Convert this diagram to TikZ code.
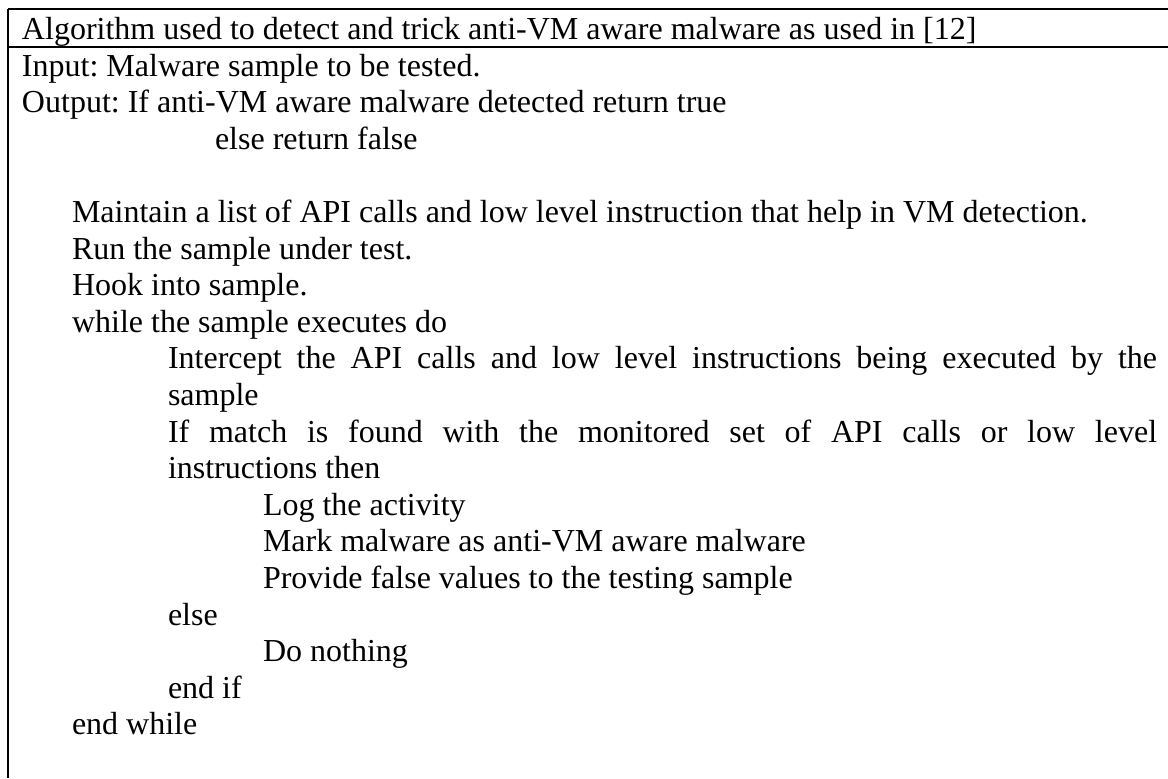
\documentclass[tikz,border=0pt]{standalone}
\usepackage{fontspec}
\setmainfont{Liberation Serif}
\frenchspacing
\begin{document}
\begin{tikzpicture}[x=0.375pt,y=-0.375pt,
  txt/.style={anchor=base west,inner sep=0pt,outer sep=0pt,font=\fontsize{12pt}{13.75pt}\selectfont\frenchspacing},
  rule/.style={line width=1.1pt,black}]
\useasboundingbox (0,0) rectangle (1168,778);
% frame
\coordinate (tl) at (8,9);
\coordinate (tr) at (1168,9);
\coordinate (sl) at (8,47);
\coordinate (sr) at (1168,47);
\coordinate (bl) at (8,778);
\draw[rule] (tl) -- (tr);
\draw[rule] (sl) -- (sr);
\draw[rule] (tl) -- (bl);
% header
\node[txt] (head) at (22,39) {Algorithm used to detect and trick anti-VM aware malware as used in [12]};
% body
\node[txt] (l1) at (22,76.0) {Input: Malware sample to be tested.};
\node[txt] (l2) at (22,112.6) {Output: If anti-VM aware malware detected return true};
\node[txt] (l3) at (215,149.2) {else return false};
\node[txt] (l5) at (72,222.4) {Maintain a list of API calls and low level instruction that help in VM detection.};
\node[txt] (l6) at (72,259.0) {Run the sample under test.};
\node[txt] (l7) at (72,295.6) {Hook into sample.};
\node[txt] (l8) at (72,332.2) {while the sample executes do};
\node[txt] (l9) at (168,368.8) {\makebox[370.9pt][s]{Intercept the API calls and low level instructions being executed by the}};
\node[txt] (l10) at (168,405.4) {sample};
\node[txt] (l11) at (168,442.0) {\makebox[370.9pt][s]{If match is found with the monitored set of API calls or low level}};
\node[txt] (l12) at (168,478.6) {instructions then};
\node[txt] (l13) at (263,515.2) {Log the activity};
\node[txt] (l14) at (263,551.8) {Mark malware as anti-VM aware malware};
\node[txt] (l15) at (263,588.4) {Provide false values to the testing sample};
\node[txt] (l16) at (168,625.0) {else};
\node[txt] (l17) at (263,661.6) {Do nothing};
\node[txt] (l18) at (168,698.2) {end if};
\node[txt] (l19) at (72,734.8) {end while};
\end{tikzpicture}
\end{document}
